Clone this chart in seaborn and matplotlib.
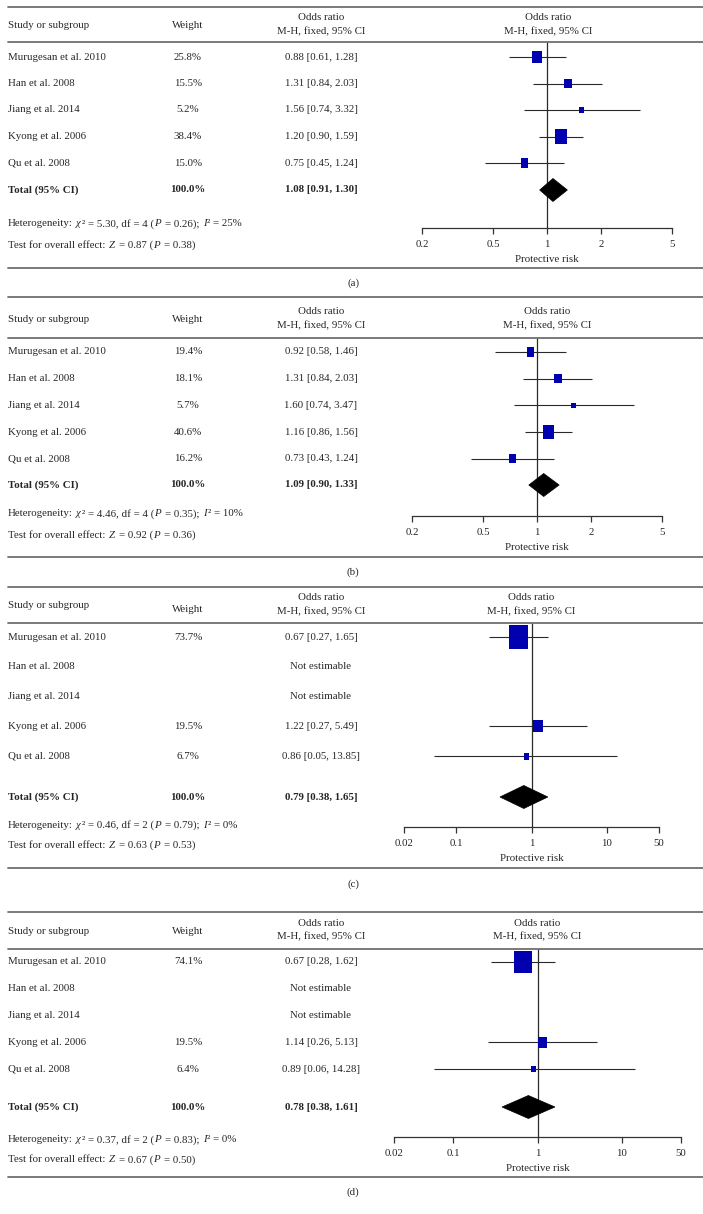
import numpy as np
import pandas as pd
import matplotlib
matplotlib.use("Agg")
import matplotlib.pyplot as plt
import seaborn as sns
from matplotlib.lines import Line2D
from matplotlib.patches import Polygon
from matplotlib.markers import MarkerStyle
from matplotlib.ticker import NullLocator

sns.set_style("white")
plt.rcParams['font.family'] = ['Liberation Serif', 'DejaVu Serif']

# --- data ---
studies = ["Murugesan et al. 2010", "Han et al. 2008", "Jiang et al. 2014",
           "Kyong et al. 2006", "Qu et al. 2008"]

weight_a = [25.8, 15.5, 5.2, 38.4, 15.0]
or_a = [0.88, 1.31, 1.56, 1.20, 0.75]
lo_a = [0.61, 0.84, 0.74, 0.90, 0.45]
hi_a = [1.28, 2.03, 3.32, 1.59, 1.24]
total_a = [1.08, 0.91, 1.30]
het_a = [5.30, 4, 0.26, 25]
z_a = [0.87, 0.38]

weight_b = [19.4, 18.1, 5.7, 40.6, 16.2]
or_b = [0.92, 1.31, 1.60, 1.16, 0.73]
lo_b = [0.58, 0.84, 0.74, 0.86, 0.43]
hi_b = [1.46, 2.03, 3.47, 1.56, 1.24]
total_b = [1.09, 0.90, 1.33]
het_b = [4.46, 4, 0.35, 10]
z_b = [0.92, 0.36]

weight_c = [73.7, np.nan, np.nan, 19.5, 6.7]
or_c = [0.67, np.nan, np.nan, 1.22, 0.86]
lo_c = [0.27, np.nan, np.nan, 0.27, 0.05]
hi_c = [1.65, np.nan, np.nan, 5.49, 13.85]
total_c = [0.79, 0.38, 1.65]
het_c = [0.46, 2, 0.79, 0]
z_c = [0.63, 0.53]

weight_d = [74.1, np.nan, np.nan, 19.5, 6.4]
or_d = [0.67, np.nan, np.nan, 1.14, 0.89]
lo_d = [0.28, np.nan, np.nan, 0.26, 0.06]
hi_d = [1.62, np.nan, np.nan, 5.13, 14.28]
total_d = [0.78, 0.38, 1.61]
het_d = [0.37, 2, 0.83, 0]
z_d = [0.67, 0.50]

ticks_ab = [0.2, 0.5, 1, 2, 5]
ticks_cd = [0.02, 0.1, 1, 10, 50]
tick_labels_ab = ["0.2", "0.5", "1", "2", "5"]
tick_labels_cd = ["0.02", "0.1", "1", "10", "50"]

# --- layout (pixels) ---
W, H = 703, 1214
FS = 7.8
BLUE = "#0000b0"
box = MarkerStyle([(-0.4, -0.5), (0.4, -0.5), (0.4, 0.5), (-0.4, 0.5)])

panels = [
    dict(tag="(a)", w=weight_a, o=or_a, lo=lo_a, hi=hi_a, tot=total_a, het=het_a, z=z_a,
         ticks=ticks_ab, tl=tick_labels_ab,
         top=7, h1=18, h2=32, hs=26, hw=25, under=42, first=57, step=26.5, total=190,
         het_y=223, test_y=244, axis=228, bottom=268, lab=283, x0=422, x1=672, hx=548, k=2.8),
    dict(tag="(b)", w=weight_b, o=or_b, lo=lo_b, hi=hi_b, tot=total_b, het=het_b, z=z_b,
         ticks=ticks_ab, tl=tick_labels_ab,
         top=297, h1=312, h2=326, hs=319, hw=319, under=338, first=352, step=26.7, total=485,
         het_y=513, test_y=534, axis=516, bottom=557, lab=572, x0=412, x1=662, hx=547, k=2.6),
    dict(tag="(c)", w=weight_c, o=or_c, lo=lo_c, hi=hi_c, tot=total_c, het=het_c, z=z_c,
         ticks=ticks_cd, tl=tick_labels_cd,
         top=587, h1=598, h2=612, hs=605, hw=609, under=623, first=637, step=29.8, total=797,
         het_y=824, test_y=844, axis=827, bottom=868, lab=884, x0=404, x1=659, hx=531, k=3.8),
    dict(tag="(d)", w=weight_d, o=or_d, lo=lo_d, hi=hi_d, tot=total_d, het=het_d, z=z_d,
         ticks=ticks_cd, tl=tick_labels_cd,
         top=912, h1=924, h2=937, hs=931, hw=931, under=949, first=962, step=26.75, total=1107,
         het_y=1139, test_y=1159, axis=1137, bottom=1177, lab=1192, x0=394, x1=681, hx=537, k=3.4),
]


def fx(px):
    return px / W


def fy(py):
    return 1 - py / H


def rule(fig, py):
    fig.add_artist(Line2D([fx(8), 1], [fy(py), fy(py)], transform=fig.transFigure,
                          color="#707070", lw=1.3))


def rich_line(ax, fig, x_px, y_px, segs):
    # pieces of text on one baseline, italic where needed; spaces become offsets
    yb = fy(y_px + 3.5)
    space = FS * 0.3
    prev = None
    gap = 0.0
    for txt, st in segs:
        lead = len(txt) - len(txt.lstrip(" "))
        trail = len(txt) - len(txt.rstrip(" "))
        body = txt.strip(" ")
        gap += lead * space
        if prev is None:
            prev = fig.text(fx(x_px), yb, body, fontsize=FS, style=st, va="baseline")
        else:
            prev = ax.annotate(body, xy=(1, yb), xycoords=(prev, "figure fraction"),
                               xytext=(gap, 0), textcoords="offset points",
                               fontsize=FS, style=st, va="baseline", ha="left",
                               annotation_clip=False)
        gap = trail * space + (0.8 if st == "italic" else 0.0)


fig = plt.figure(figsize=(W / 100, H / 100), dpi=100)

for p in panels:
    rows = p["first"] + p["step"] * np.arange(len(studies))
    df = pd.DataFrame({"study": studies, "weight": p["w"], "or": p["o"],
                       "lo": p["lo"], "hi": p["hi"], "y": rows})

    rule(fig, p["top"])
    rule(fig, p["under"])
    rule(fig, p["bottom"])

    # headers
    fig.text(fx(8), fy(p["hs"]), "Study or subgroup", fontsize=FS, va="center")
    fig.text(fx(188), fy(p["hw"]), "Weight", fontsize=FS, va="center", ha="center")
    for cx in (321, p["hx"]):
        fig.text(fx(cx), fy(p["h1"]), "Odds ratio", fontsize=FS, va="center", ha="center")
        fig.text(fx(cx), fy(p["h2"]), "M-H, fixed, 95% CI", fontsize=FS, va="center", ha="center")

    # table rows
    for _, r in df.iterrows():
        yy = fy(r["y"])
        fig.text(fx(8), yy, r["study"], fontsize=FS, va="center")
        if np.isnan(r["weight"]):
            fig.text(fx(321), yy, "Not estimable", fontsize=FS, va="center", ha="center")
        else:
            fig.text(fx(188), yy, f"{r['weight']:.1f}%", fontsize=FS, va="center", ha="center")
            fig.text(fx(321), yy, f"{r['or']:.2f} [{r['lo']:.2f}, {r['hi']:.2f}]",
                     fontsize=FS, va="center", ha="center")

    tot = p["tot"]
    yy = fy(p["total"])
    fig.text(fx(8), yy, "Total (95% CI)", fontsize=FS, va="center", weight="bold")
    fig.text(fx(188), yy, "100.0%", fontsize=FS, va="center", ha="center", weight="bold")
    fig.text(fx(321), yy, f"{tot[0]:.2f} [{tot[1]:.2f}, {tot[2]:.2f}]", fontsize=FS,
             va="center", ha="center", weight="bold")
    fig.text(fx(353), fy(p["lab"]), p["tag"], fontsize=FS, va="center", ha="center")

    # forest plot
    ax = fig.add_axes([fx(p["x0"]), fy(p["axis"]), (p["x1"] - p["x0"]) / W,
                       (p["axis"] - p["under"]) / H])
    ax.patch.set_alpha(0)
    est = df.dropna()
    ax.hlines(est["y"], est["lo"], est["hi"], color="#2a2a2a", lw=0.8, zorder=2)
    sns.scatterplot(data=est, x="or", y="y", size="weight", sizes=(0, 100 * p["k"]),
                    size_norm=(0, 100), marker=box, color=BLUE, edgecolor=BLUE,
                    linewidth=0, legend=False, ax=ax, zorder=3)
    dh = 23
    ax.add_patch(Polygon([[tot[1], p["total"]], [tot[0], p["total"] - dh / 2],
                          [tot[2], p["total"]], [tot[0], p["total"] + dh / 2]],
                         closed=True, facecolor="black", edgecolor="black", lw=0.5, zorder=4))
    ax.axvline(1, color="#2a2a2a", lw=0.9, zorder=1)

    ax.set_xscale("log")
    ax.set_xlim(p["ticks"][0], p["ticks"][-1])
    ax.set_ylim(p["axis"], p["under"])
    for s in ("top", "left", "right"):
        ax.spines[s].set_visible(False)
    ax.spines["bottom"].set_color("#333333")
    ax.spines["bottom"].set_linewidth(0.9)
    ax.set_xticks(p["ticks"])
    ax.set_xticklabels(p["tl"])
    ax.xaxis.set_minor_locator(NullLocator())
    ax.set_yticks([])
    ax.set_ylabel("")
    ax.tick_params(axis="x", bottom=True, direction="out", length=4.3, width=0.9,
                   color="#333333", labelsize=FS, pad=4)
    ax.set_xlabel("Protective risk", fontsize=FS, labelpad=5)

    chi2, dof, ph, i2 = p["het"]
    rich_line(ax, fig, 8, p["het_y"],
              [("Heterogeneity: ", "normal"), ("χ", "italic"),
               (f"² = {chi2:.2f}, df = {dof} (", "normal"), ("P", "italic"),
               (f" = {ph:.2f}); ", "normal"), ("I", "italic"), (f"² = {i2}%", "normal")])
    rich_line(ax, fig, 8, p["test_y"],
              [("Test for overall effect: ", "normal"), ("Z", "italic"),
               (f" = {p['z'][0]:.2f} (", "normal"), ("P", "italic"),
               (f" = {p['z'][1]:.2f})", "normal")])

fig.savefig("out.png", dpi=100)
